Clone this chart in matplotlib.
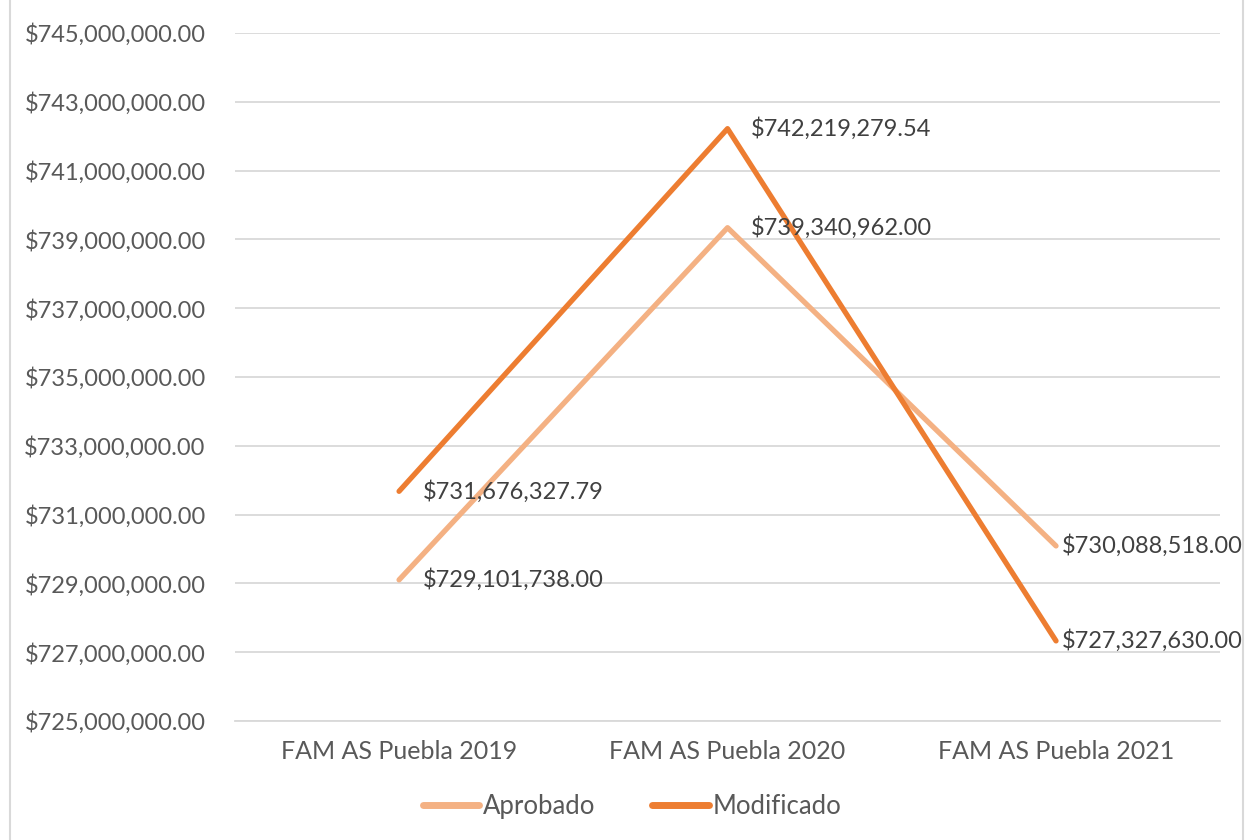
import matplotlib.pyplot as plt
from matplotlib.patches import Rectangle
from matplotlib.ticker import FuncFormatter

# =========================================================
# DATOS
# =========================================================
categorias = ['FAM AS Puebla 2019', 'FAM AS Puebla 2020', 'FAM AS Puebla 2021']
aprobado = [729101738.00, 739340962.00, 730088518.00]
modificado = [731676327.79, 742219279.54, 727327630.00]

color_aprobado = '#F4B183'
color_modificado = '#ED7D31'
gris_texto = '#595959'

plt.rcParams['font.family'] = ['Lato', 'DejaVu Sans']

fig = plt.figure(figsize=(12.49, 8.40), dpi=100)
ax = fig.add_axes([0.188, 0.1417, 0.977 - 0.188, 0.9607 - 0.1417])

# borde del área del gráfico
fig.patches.append(Rectangle((0.008, -0.01), 0.987, 1.02, transform=fig.transFigure,
                             fill=False, edgecolor='#D9D9D9', linewidth=1.5))

x = [i + 0.5 for i in range(len(categorias))]

ax.plot(x, aprobado, color=color_aprobado, linewidth=3.8, label='Aprobado',
        solid_capstyle='round')
ax.plot(x, modificado, color=color_modificado, linewidth=3.8, label='Modificado',
        solid_capstyle='round')

# etiquetas de datos (la última categoría queda pegada al borde derecho)
for serie in (aprobado, modificado):
    for i, (xi, v) in enumerate(zip(x, serie)):
        dx = 4 if i == len(x) - 1 else 17
        ax.annotate(f'${v:,.2f}', (xi, v), xytext=(dx, 0), textcoords='offset points',
                    ha='left', va='center', fontsize=17, color='#404040')

ax.set_xlim(0, 3)
ax.set_ylim(725e6, 745e6)
ax.set_yticks([725e6 + 2e6 * i for i in range(11)])
ax.yaxis.set_major_formatter(FuncFormatter(lambda v, p: f'${v:,.2f}'))
ax.set_xticks(x)
ax.set_xticklabels(categorias)

ax.grid(axis='y', color='#D9D9D9', linewidth=1.3)
ax.set_axisbelow(True)
for s in ['top', 'right', 'left']:
    ax.spines[s].set_visible(False)
ax.spines['bottom'].set_color('#D9D9D9')
ax.spines['bottom'].set_linewidth(1.3)
ax.tick_params(axis='both', length=0, colors=gris_texto)
ax.tick_params(axis='y', pad=21, labelsize=17)
ax.tick_params(axis='x', pad=14, labelsize=18)

ax.legend(loc='upper center', bbox_to_anchor=(0.403, -0.072), ncol=2, frameon=False,
          fontsize=18.5, labelcolor=gris_texto, handlelength=2.2, handletextpad=0.15,
          columnspacing=2.2)
for h in ax.get_legend().get_lines():
    h.set_linewidth(5)

fig.savefig('out.png', dpi=100)
